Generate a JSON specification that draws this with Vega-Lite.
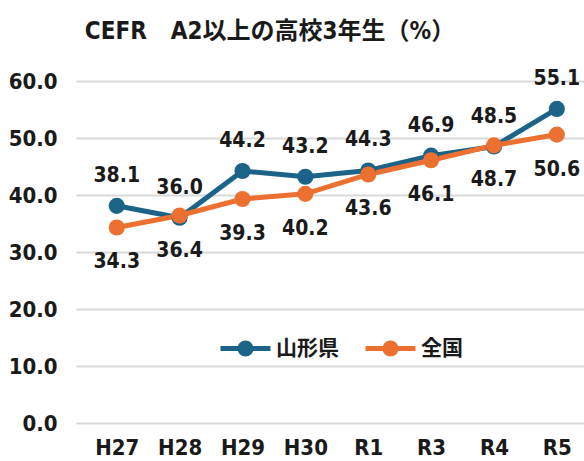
{
  "$schema": "https://vega.github.io/schema/vega-lite/v6.json",
  "width": 508,
  "height": 342,
  "autosize": {"type": "none"},
  "padding": {"left": 76, "top": 81, "right": 0, "bottom": 38},
  "background": "white",
  "config": {
    "view": {"stroke": null},
    "font": "Liberation Sans Narrow, DejaVu Sans Condensed, Roboto Condensed, Liberation Sans, Noto Sans CJK JP"
  },
  "title": {
    "text": "CEFR　A2以上の高校3年生（%）",
    "fontSize": 24,
    "fontWeight": "bold",
    "color": "#1a1a1a",
    "anchor": "middle",
    "dx": -60,
    "offset": 24
  },
  "data": {
    "values": [
      {"year": "H27", "series": "山形県", "value": 38.1},
      {"year": "H28", "series": "山形県", "value": 36.0},
      {"year": "H29", "series": "山形県", "value": 44.2},
      {"year": "H30", "series": "山形県", "value": 43.2},
      {"year": "R1", "series": "山形県", "value": 44.3},
      {"year": "R3", "series": "山形県", "value": 46.9},
      {"year": "R4", "series": "山形県", "value": 48.5},
      {"year": "R5", "series": "山形県", "value": 55.1},
      {"year": "H27", "series": "全国", "value": 34.3},
      {"year": "H28", "series": "全国", "value": 36.4},
      {"year": "H29", "series": "全国", "value": 39.3},
      {"year": "H30", "series": "全国", "value": 40.2},
      {"year": "R1", "series": "全国", "value": 43.6},
      {"year": "R3", "series": "全国", "value": 46.1},
      {"year": "R4", "series": "全国", "value": 48.7},
      {"year": "R5", "series": "全国", "value": 50.6}
    ]
  },
  "encoding": {
    "x": {
      "field": "year",
      "type": "ordinal",
      "sort": ["H27", "H28", "H29", "H30", "R1", "R3", "R4", "R5"],
      "scale": {"type": "point", "padding": 0.54, "align": 0.6},
      "axis": {
        "title": null,
        "labelAngle": 0,
        "domain": false,
        "ticks": false,
        "grid": false,
        "labelFontSize": 22,
        "labelFontWeight": "bold",
        "labelColor": "#1a1a1a",
        "labelPadding": 14
      }
    },
    "y": {
      "field": "value",
      "type": "quantitative",
      "scale": {"domain": [0, 60], "nice": false},
      "axis": {
        "title": null,
        "values": [0, 10, 20, 30, 40, 50, 60],
        "format": ".1f",
        "domain": false,
        "ticks": false,
        "gridColor": "#d9d9d9",
        "gridWidth": 2,
        "labelFontSize": 22,
        "labelFontWeight": "bold",
        "labelColor": "#1a1a1a",
        "labelPadding": 19
      }
    },
    "color": {
      "field": "series",
      "type": "nominal",
      "sort": ["山形県", "全国"],
      "scale": {"domain": ["山形県", "全国"], "range": ["#1c6388", "#ec7030"]},
      "legend": {
        "title": null,
        "orient": "none",
        "legendX": 142,
        "legendY": 240,
        "direction": "horizontal",
        "symbolType": "M-1,0L1,0M-0.22,0A0.22,0.22,0,1,0,0.22,0A0.22,0.22,0,1,0,-0.22,0Z",
        "symbolSize": 2500,
        "symbolStrokeWidth": 5,
        "labelFontSize": 21,
        "labelFontWeight": "bold",
        "labelColor": "#1a1a1a",
        "labelOffset": 3,
        "columnPadding": 16,
        "symbolOpacity": 1,
        "encode": {
          "symbols": {"update": {"fill": {"scale": "color", "field": "value"}, "opacity": {"value": 1}}}
        }
      }
    }
  },
  "layer": [
    {
      "mark": {"type": "line", "strokeWidth": 5},
      "encoding": {"detail": {"field": "series"}}
    },
    {
      "mark": {"type": "point", "filled": true, "size": 260, "opacity": 1},
      "encoding": {"order": {"field": "series", "sort": "descending"}}
    },
    {
      "transform": [{"filter": "datum.series === '山形県'"}],
      "mark": {"type": "text", "dy": -30, "fontSize": 21, "fontWeight": "bold", "color": "#1a1a1a", "baseline": "middle"},
      "encoding": {"text": {"field": "value", "format": ".1f"}, "color": {"value": "#1a1a1a"}}
    },
    {
      "transform": [{"filter": "datum.series === '全国'"}],
      "mark": {"type": "text", "dy": 35, "fontSize": 21, "fontWeight": "bold", "color": "#1a1a1a", "baseline": "middle"},
      "encoding": {"text": {"field": "value", "format": ".1f"}, "color": {"value": "#1a1a1a"}}
    }
  ]
}
